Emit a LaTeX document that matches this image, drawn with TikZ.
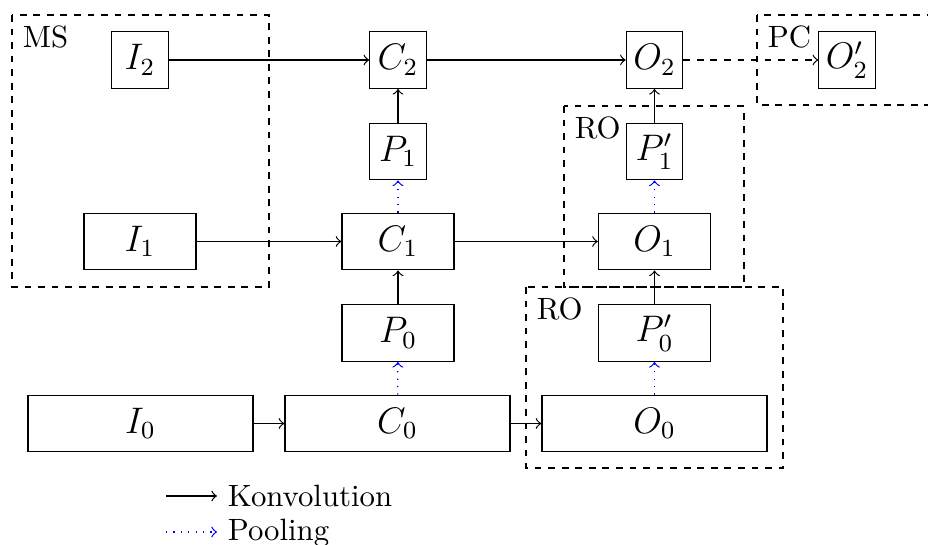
\documentclass[tikz,border=0pt]{standalone}
\usetikzlibrary{arrows}
\begin{document}
\begin{tikzpicture}[x=0.3247pt,y=-0.3247pt,
  box/.style={draw, inner sep=0pt, minimum height=18.4pt, font=\large},
  sbox/.style={box, minimum width=18.3pt},
  mbox/.style={box, minimum width=36.4pt},
  wbox/.style={box, minimum width=73.1pt},
  conv/.style={->},
  pool/.style={->, blue, dotted},
  grp/.style={dash pattern=on 2.2pt off 2.2pt},
  grplabel/.style={anchor=north west}]
\useasboundingbox (0,0) rectangle (928,545);
% group boxes
\draw[grp] (12,15) rectangle (269,287);
\node[grplabel] (MSlab) at (12,15) {MS};
\draw[grp] (757,15) rectangle (945,105);
\node[grplabel] (PClab) at (757,15) {PC};
\draw[grp] (564,106) rectangle (744,287);
\node[grplabel] (ROalab) at (564,106) {RO};
\draw[grp] (526,287) rectangle (783,468);
\node[grplabel] (ROblab) at (526,287) {RO};
% nodes
\node[sbox] (I2) at (140,60) {$I_2$};
\node[sbox] (C2) at (398,60) {$C_2$};
\node[sbox] (O2) at (654.5,60) {$O_2$};
\node[sbox] (O2p) at (847,60) {$O'_2$};
\node[sbox] (P1) at (398,151.5) {$P_1$};
\node[sbox] (P1p) at (654.5,151.5) {$P'_1$};
\node[mbox] (I1) at (140,241.5) {$I_1$};
\node[mbox] (C1) at (398,241.5) {$C_1$};
\node[mbox] (O1) at (654.5,241.5) {$O_1$};
\node[mbox] (P0) at (398,333) {$P_0$};
\node[mbox] (P0p) at (654.5,333) {$P'_0$};
\node[wbox] (I0) at (140.5,423.5) {$I_0$};
\node[wbox] (C0) at (397.5,423.5) {$C_0$};
\node[wbox] (O0) at (654.5,423.5) {$O_0$};
% connectors
\draw[conv] (I2) -- (C2);
\draw[conv] (C2) -- (O2);
\draw[->, grp] (O2) -- (O2p);
\draw[conv] (P1) -- (C2);
\draw[conv] (P1p) -- (O2);
\draw[pool] (C1) -- (P1);
\draw[pool] (O1) -- (P1p);
\draw[conv] (I1) -- (C1);
\draw[conv] (C1) -- (O1);
\draw[conv] (P0) -- (C1);
\draw[conv] (P0p) -- (O1);
\draw[pool] (C0) -- (P0);
\draw[pool] (O0) -- (P0p);
\draw[conv] (I0) -- (C0);
\draw[conv] (C0) -- (O0);
% legend
\coordinate (lk0) at (166,496);
\coordinate (lk1) at (217,496);
\coordinate (lp0) at (166,532);
\coordinate (lp1) at (217,532);
\draw[conv] (lk0) -- (lk1);
\draw[pool] (lp0) -- (lp1);
\node[anchor=base west] (Lk) at (217,507) {Konvolution};
\node[anchor=base west] (Lp) at (217,541) {Pooling};
\end{tikzpicture}
\end{document}
